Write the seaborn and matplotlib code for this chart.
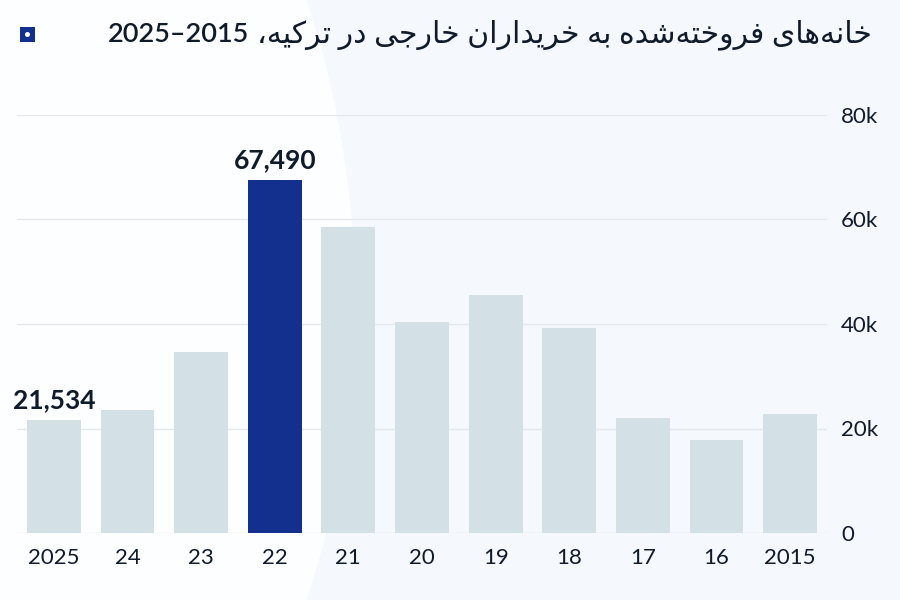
import re
import matplotlib
matplotlib.use("Agg")
import matplotlib.pyplot as plt
from matplotlib.patches import Ellipse, Rectangle
import seaborn as sns

years = ["2025", "24", "23", "22", "21", "20", "19", "18", "17", "16", "2015"]
homes = [21534, 23500, 34600, 67490, 58600, 40400, 45500, 39300, 22000, 17800, 22800]
labelled = {"2025": "21,534", "22": "67,490"}
highlight = "22"
yticks = [0, 20000, 40000, 60000, 80000]
ytick_labels = ["0", "20k", "40k", "60k", "80k"]
title = "خانه\u200cهای فروخته\u200cشده به خریداران خارجی در ترکیه،"
title_years = "2025–2015"

BAR = "#d3e0e5"
NAVY = "#13308f"
TEXT = "#0f1a2b"

# contextual forms: isolated, final, initial, medial
FORMS = {
    "ا": "\uFE8D\uFE8E", "د": "\uFEA9\uFEAA", "ر": "\uFEAD\uFEAE", "و": "\uFEED\uFEEE",
    "ب": "\uFE8F\uFE90\uFE91\uFE92", "ت": "\uFE95\uFE96\uFE97\uFE98",
    "ج": "\uFE9D\uFE9E\uFE9F\uFEA0", "خ": "\uFEA5\uFEA6\uFEA7\uFEA8",
    "ش": "\uFEB5\uFEB6\uFEB7\uFEB8", "ف": "\uFED1\uFED2\uFED3\uFED4",
    "ن": "\uFEE5\uFEE6\uFEE7\uFEE8", "ه": "\uFEE9\uFEEA\uFEEB\uFEEC",
    "ی": "\uFBFC\uFBFD\uFBFE\uFBFF", "ک": "\uFB8E\uFB8F\uFB90\uFB91",
}


def rtl(text):
    out = []
    for i, c in enumerate(text):
        if c not in FORMS:
            out.append(c)
            continue
        prev = text[i - 1] if i > 0 else ""
        nxt = text[i + 1] if i + 1 < len(text) else ""
        jp = prev in FORMS and len(FORMS[prev]) == 4
        jn = nxt in FORMS and len(FORMS[c]) == 4
        f = FORMS[c]
        out.append(f[3] if jp and jn else f[1] if jp else f[2] if jn else f[0])
    s = "".join(out).replace("\u200c", "")
    return re.sub(r"[0-9]+", lambda m: m.group()[::-1], s[::-1])


sns.set_theme(style="white")
plt.rcParams["font.family"] = ["Lato", "DejaVu Sans"]

fig = plt.figure(figsize=(9, 6), dpi=100)
fig.patch.set_facecolor("#f5f8fc")
fig.patches.append(Ellipse((-600 / 900, 1 - 300 / 600), 2 * 955 / 900, 2 * 955 / 600,
                           transform=fig.transFigure, facecolor="#fdfeff", edgecolor="none", zorder=0))

ax = fig.add_axes([17 / 900, 1 - 533 / 600, 810 / 900, 418 / 600])
ax.set_facecolor("none")
ax.set_zorder(2)

colors = [NAVY if y == highlight else BAR for y in years]
sns.barplot(x=years, y=homes, hue=years, palette=colors, order=years, legend=False,
            width=0.73, saturation=1, linewidth=0, ax=ax, zorder=3)

ax.set_xlim(-0.5, len(years) - 0.5)
ax.set_ylim(0, 80000)
ax.set_yticks(yticks)
ax.set_yticklabels(ytick_labels)
ax.yaxis.tick_right()
ax.grid(axis="y", color="#e3e8ee", linewidth=1, zorder=0)
ax.grid(axis="x", visible=False)
for s in ax.spines.values():
    s.set_visible(False)
ax.tick_params(axis="y", length=0, pad=10, labelsize=16, labelcolor=TEXT)
ax.tick_params(axis="x", length=0, pad=11, labelsize=16, labelcolor=TEXT)
ax.set_xlabel("")
ax.set_ylabel("")

for i, y in enumerate(years):
    if y in labelled:
        ax.annotate(labelled[y], (i, homes[i]), xytext=(0, 6), textcoords="offset points",
                    ha="center", va="bottom", fontsize=19, fontweight="bold", color=TEXT)

t = fig.text(872 / 900, 1 - 35 / 600, rtl(title), ha="right", va="center", fontsize=21.5,
             color=TEXT, zorder=5)
fig.canvas.draw()
bb = t.get_window_extent().transformed(fig.transFigure.inverted())
fig.text(bb.x0 - 8 / 900, 1 - 35 / 600, title_years, ha="right", va="center", fontsize=19.5,
         fontweight="semibold", color=TEXT, zorder=5)

# small legend marker
fig.patches.append(Rectangle((20 / 900, 1 - 42 / 600), 15 / 900, 15 / 600, transform=fig.transFigure,
                             facecolor=NAVY, edgecolor="none", zorder=5))
fig.patches.append(Ellipse((27.5 / 900, 1 - 34.5 / 600), 5 / 900, 5 / 600, transform=fig.transFigure,
                           facecolor="white", edgecolor="none", zorder=6))

fig.savefig("out.png", dpi=100, facecolor=fig.get_facecolor())
